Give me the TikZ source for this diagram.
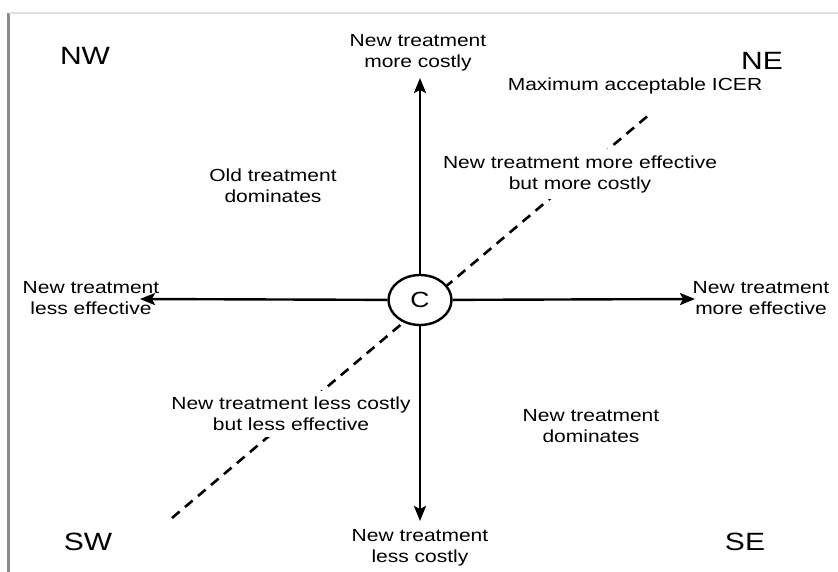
\documentclass[tikz,border=0pt]{standalone}
\usepackage{fontspec}
\setmainfont{Liberation Sans}[FakeStretch=1.2]
\usetikzlibrary{shapes.geometric, arrows.meta, positioning}
\tikzset{
  ce/.style = {ellipse, draw=black, fill=white, inner sep=0pt,
    minimum width=63pt, minimum height=50pt, line width=2.4pt,
    font=\fontsize{22}{22}\selectfont},
  ax/.style = {-{Stealth[length=15pt, width=12pt, inset=3pt]}, line width=2.4pt},
  icer/.style = {line width=2.6pt, dash pattern=on 10pt off 7pt},
  qrot/.style = {align=center, font=\fontsize{17.5}{21}\selectfont},
  qreg/.style = {qrot, fill=white, inner xsep=4pt, inner ysep=6pt},
  qcant/.style = {font=\fontsize{25}{25}\selectfont},
  brd/.style = {draw=black!45, line width=3pt}
}

\begin{document}
\begin{tikzpicture}[x=1pt, y=-1pt]
  \useasboundingbox [fill=white] (0,0) rectangle (838,572);
  % frame edge of the screenshot
  \coordinate (b1) at (8.5,572);
  \coordinate (b2) at (8.5,13);
  \coordinate (b3) at (838,13);
  \draw [brd] (b1) -- (b2);
  \draw [draw=black!12, line width=1.5pt] (b2) -- (b3);
  % threshold line
  \coordinate (t0) at (172,518);
  \coordinate (t1) at (650,114);
  \draw [icer] (t0) -- (t1);
  % origin and axes
  \node [ce] (c) at (420,300) {C};
  \coordinate (up) at (420,78);
  \coordinate (dn) at (420,521);
  \coordinate (lf) at (140,299);
  \coordinate (rt) at (695,299);
  \draw [ax] (c) -- (up);
  \draw [ax] (c) -- (dn);
  \draw [ax] (c) -- (lf);
  \draw [ax] (c) -- (rt);
  % quadrant names
  \node [qcant] (nw) at (85,56) {NW};
  \node [qcant] (ne) at (762,61) {NE};
  \node [qcant] (sw) at (88,542) {SW};
  \node [qcant] (se) at (745,542) {SE};
  % axis ends
  \node [qrot] (tup) at (418,53) {New treatment\\more costly};
  \node [qrot] (tdn) at (420,548) {New treatment\\less costly};
  \node [qrot] (tlf) at (91,298) {New treatment\\less effective};
  \node [qrot] (trt) at (761,298) {New treatment\\more effective};
  % regions
  \node [qreg] (ticer) at (635,86) {Maximum acceptable ICER};
  \node [qreg] (told) at (273,186) {Old treatment\\dominates};
  \node [qreg] (tne) at (580,174) {New treatment more effective\\but more costly};
  \node [qreg] (tsw) at (291,414) {New treatment less costly\\but less effective};
  \node [qreg] (tse) at (591,426) {New treatment\\dominates};
\end{tikzpicture}
\end{document}
